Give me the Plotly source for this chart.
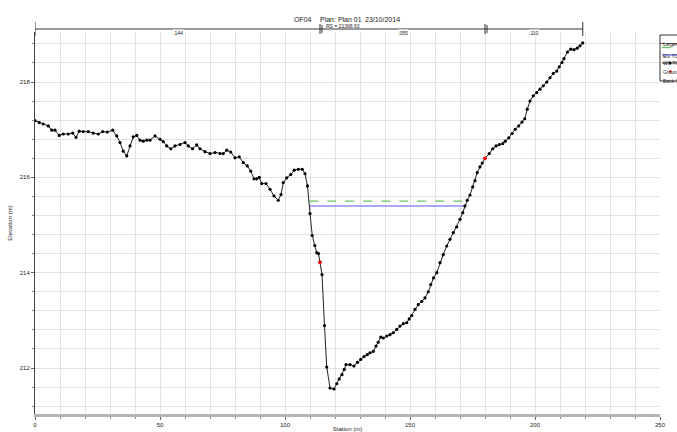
import plotly.graph_objects as go

# ---------------- data ----------------
ground_x = [0, 1.7, 3.3, 5.3, 6.7, 8, 9.7, 11.3, 13.3, 15.1, 16.4, 17.7, 19.3, 21.3, 23.3, 25.3, 27.1, 28.9,
            31.1, 32.7, 34, 35.3, 36.7, 38, 39.3, 40.7, 42, 43.3, 44.7, 46, 48, 50, 51.3, 52.7, 54.3, 56, 58,
            60, 61.3, 63, 64.7, 66, 68, 70, 72, 74, 75.3, 76.7, 78.3, 80, 81.7, 83.3, 84.9, 86.3, 87.6, 88.7,
            89.7, 90.7, 92.4, 94, 95.6, 97.3, 98.4, 99.3, 100.7, 102.3, 103.7, 105.3, 106.9, 108, 109, 110,
            110.9, 111.9, 112.7, 113.4, 114.0, 114.8, 115.8, 116.7, 118, 119.6, 120.7, 121.7, 122.8, 123.7,
            124.4, 126, 127.6, 129, 130.3, 131.6, 132.9, 134, 135.3, 136.4, 137.3, 138.3, 139.3, 140.7, 142,
            143.3, 144.7, 146, 147.3, 148.7, 149.7, 150.7, 152, 153.3, 154.7, 156, 157.3, 158.3, 159.4, 160.7,
            162, 163.3, 164.7, 166, 167.3, 168.7, 170, 171.1, 172, 172.9, 174, 175.1, 176, 176.9, 178, 178.9,
            180, 181.7, 183.1, 184.4, 185.7, 187.1, 188.1, 189.5, 190.8, 192.1, 193.5, 194.8, 195.9, 196.9,
            198, 199.3, 200.7, 202, 203.3, 204.7, 206, 207.3, 208.7, 209.7, 210.8, 211.6, 213, 214.3, 215.6,
            216.9, 218, 219.1]
ground_y = [217.19, 217.15, 217.12, 217.08, 216.99, 216.99, 216.88, 216.91, 216.91, 216.93, 216.84, 216.97,
            216.96, 216.96, 216.93, 216.91, 216.96, 216.95, 216.99, 216.87, 216.73, 216.55, 216.45, 216.66,
            216.85, 216.88, 216.78, 216.76, 216.78, 216.78, 216.87, 216.80, 216.75, 216.66, 216.60, 216.66,
            216.69, 216.73, 216.66, 216.60, 216.68, 216.60, 216.54, 216.50, 216.52, 216.50, 216.50, 216.57,
            216.53, 216.41, 216.43, 216.31, 216.24, 216.13, 215.97, 215.97, 216.00, 215.87, 215.87, 215.75,
            215.61, 215.52, 215.64, 215.89, 215.99, 216.06, 216.15, 216.17, 216.17, 216.08, 215.82, 215.24,
            214.78, 214.57, 214.42, 214.40, 214.22, 213.96, 212.89, 212.02, 211.58, 211.56, 211.67, 211.77,
            211.86, 211.97, 212.07, 212.07, 212.04, 212.12, 212.18, 212.24, 212.28, 212.32, 212.35, 212.46,
            212.54, 212.65, 212.63, 212.67, 212.70, 212.74, 212.81, 212.88, 212.93, 212.95, 213.03, 213.10,
            213.23, 213.33, 213.40, 213.47, 213.60, 213.75, 213.89, 214.00, 214.21, 214.38, 214.56, 214.70,
            214.84, 214.96, 215.12, 215.26, 215.40, 215.52, 215.63, 215.80, 215.93, 216.10, 216.22, 216.30,
            216.40, 216.50, 216.60, 216.66, 216.69, 216.71, 216.76, 216.83, 216.92, 217.01, 217.08, 217.16,
            217.23, 217.43, 217.60, 217.71, 217.78, 217.85, 217.92, 218.00, 218.09, 218.18, 218.23, 218.32,
            218.41, 218.49, 218.63, 218.69, 218.68, 218.71, 218.76, 218.82]

bank_x = [114.0, 180.0]
bank_y = [214.22, 216.40]

ws_x = [109.7, 172.0]
ws_elev = 215.40
eg_x = [109.7, 172.3]
eg_elev = 215.50

n_stations = [0, 114.0, 180.0, 219.1]
n_values = [".144", ".055", ".110"]

legend_names = ["EG TC100", "WS TC100", "Ground", "Bank Sta"]

x_range = [0, 250]
y_range = [211.035, 219.05]

# ---------------- figure ----------------
EG_COL, WS_COL, GR_COL, BK_COL = "#66c266", "#8c8cf2", "#222222", "red"
TXT = "#222222"

fig = go.Figure()
fig.add_trace(go.Scatter(x=eg_x, y=[eg_elev] * len(eg_x), mode="lines", name=legend_names[0],
                         line=dict(color=EG_COL, width=1.3, dash="dash")))
fig.add_trace(go.Scatter(x=ws_x, y=[ws_elev] * len(ws_x), mode="lines", name=legend_names[1],
                         line=dict(color=WS_COL, width=1.6)))
fig.add_trace(go.Scatter(x=ground_x, y=ground_y, mode="lines+markers", name=legend_names[2],
                         line=dict(color=GR_COL, width=1),
                         marker=dict(color="black", size=3.2, symbol="circle")))
fig.add_trace(go.Scatter(x=bank_x, y=bank_y, mode="markers", name=legend_names[3],
                         marker=dict(color=BK_COL, size=3.5)))

W, H = 677, 432
ml, mr, mt, mb = 35, 17, 32, 18
pw, ph = W - ml - mr, H - mt - mb


def px_x(px):
    return (px - ml) / pw


def px_y(py):
    return (H - mb - py) / ph


shapes = []
annotations = []
bar_y = px_y(29)
# n-value bar
shapes.append(dict(type="line", xref="x", yref="paper", x0=n_stations[0], x1=n_stations[-1],
                   y0=bar_y, y1=bar_y, line=dict(color="#333333", width=1)))
for i, s in enumerate(n_stations):
    half = 7 if i in (0, len(n_stations) - 1) else 5
    shapes.append(dict(type="line", xref="x", yref="paper", x0=s, x1=s,
                       y0=px_y(29 + half), y1=px_y(29 - half), line=dict(color="#333333", width=1)))
    if 0 < i < len(n_stations) - 1:
        shapes.append(dict(type="line", xref="x", yref="paper", x0=s + 0.8, x1=s + 0.8,
                           y0=px_y(29 + 4), y1=px_y(29 - 4), line=dict(color="#333333", width=1)))
for i, v in enumerate(n_values):
    mid = (n_stations[i] + n_stations[i + 1]) / 2
    annotations.append(dict(x=mid, y=bar_y, xref="x", yref="paper", text=v, showarrow=False,
                            bgcolor="white", font=dict(size=5, color=TXT), borderpad=0))

title_font = dict(family="Liberation Sans, Arial", size=7, color=TXT)
annotations += [
    dict(x=px_x(303), y=px_y(14), xref="paper", yref="paper", text="OF04", showarrow=False, font=title_font),
    dict(x=px_x(341), y=px_y(14), xref="paper", yref="paper", text="Plan: Plan 01", showarrow=False, font=title_font),
    dict(x=px_x(382), y=px_y(14), xref="paper", yref="paper", text="23/10/2014", showarrow=False, font=title_font),
    dict(x=px_x(343), y=px_y(21), xref="paper", yref="paper", text="RS = 21368.63", showarrow=False,
         font=dict(family="Liberation Sans, Arial", size=5, color=TXT)),
]

# manual HEC-RAS style legend (symbol above label), cut by the right edge like the reference
lx0, lx1, ly0, ly1 = 660, 678, 35, 81
shapes.append(dict(type="rect", xref="paper", yref="paper", x0=px_x(lx0), x1=px_x(lx1),
                   y0=px_y(ly1), y1=px_y(ly0), line=dict(color="#333", width=1), fillcolor="white", layer="above"))
leg_font = dict(family="Liberation Sans, Arial", size=5, color=TXT)
annotations.append(dict(x=px_x(lx0 + 1), y=px_y(39.5), xref="paper", yref="paper", text="Legend",
                        showarrow=False, xanchor="left", font=dict(family="Liberation Sans, Arial", size=6, color=TXT)))
shapes.append(dict(type="line", xref="paper", yref="paper", x0=px_x(lx0), x1=px_x(lx1),
                   y0=px_y(43.5), y1=px_y(43.5), line=dict(color="#333", width=0.8)))
sample_rows = [47.5, 55, 63, 71.5]
label_rows = [51, 58.5, 67, 76]
styles = [dict(color=EG_COL, width=1.3, dash="dash"), dict(color=WS_COL, width=1.6),
          dict(color=GR_COL, width=1), None]
for i, name in enumerate(legend_names):
    if styles[i] is not None:
        shapes.append(dict(type="line", xref="paper", yref="paper", x0=px_x(lx0 + 2), x1=px_x(lx1),
                           y0=px_y(sample_rows[i]), y1=px_y(sample_rows[i]), line=styles[i]))
    if i in (2, 3):
        col = "black" if i == 2 else "red"
        shapes.append(dict(type="circle", xref="paper", yref="paper", x0=px_x(lx0 + 9), x1=px_x(lx0 + 11.5),
                           y0=px_y(sample_rows[i] + 1.3), y1=px_y(sample_rows[i] - 1.3),
                           fillcolor=col, line=dict(color=col, width=0)))
    annotations.append(dict(x=px_x(lx0 + 1), y=px_y(label_rows[i]), xref="paper", yref="paper", text=name,
                            showarrow=False, xanchor="left", font=leg_font))

grid_c = "#e2e2e2"
fig.update_layout(
    template="none",
    width=W, height=H,
    margin=dict(l=ml, r=mr, t=mt, b=mb, pad=0, autoexpand=False),
    paper_bgcolor="white", plot_bgcolor="white",
    font=dict(family="Liberation Sans, Arial", size=6, color=TXT),
    showlegend=False,
    shapes=shapes, annotations=annotations,
    xaxis=dict(range=x_range, dtick=50, tick0=0, showgrid=True, gridcolor=grid_c, gridwidth=1,
               zeroline=False, showline=True, linecolor="#b4b4b4", linewidth=3, automargin=False,
               ticks="outside", ticklen=3, tickcolor="#666", tickfont=dict(size=6, color=TXT),
               minor=dict(dtick=10, showgrid=True, gridcolor=grid_c, ticks="outside", ticklen=2, tickcolor="#888"),
               title=dict(text="Station (m)", font=dict(size=6, color=TXT), standoff=2)),
    yaxis=dict(range=y_range, dtick=2, tick0=0, showgrid=True, gridcolor=grid_c, gridwidth=1,
               zeroline=False, showline=True, linecolor="#444", linewidth=1, automargin=False,
               ticks="outside", ticklen=3, tickcolor="#666", tickfont=dict(size=6, color=TXT),
               minor=dict(dtick=0.4, tick0=0, showgrid=True, gridcolor=grid_c, ticks="outside", ticklen=2, tickcolor="#888"),
               title=dict(text="Elevation (m)", font=dict(size=6, color=TXT), standoff=6)),
)

fig.write_html("out.html", config={"displayModeBar": False},
               post_script="document.body.style.margin='0';document.body.style.overflow='hidden';")
